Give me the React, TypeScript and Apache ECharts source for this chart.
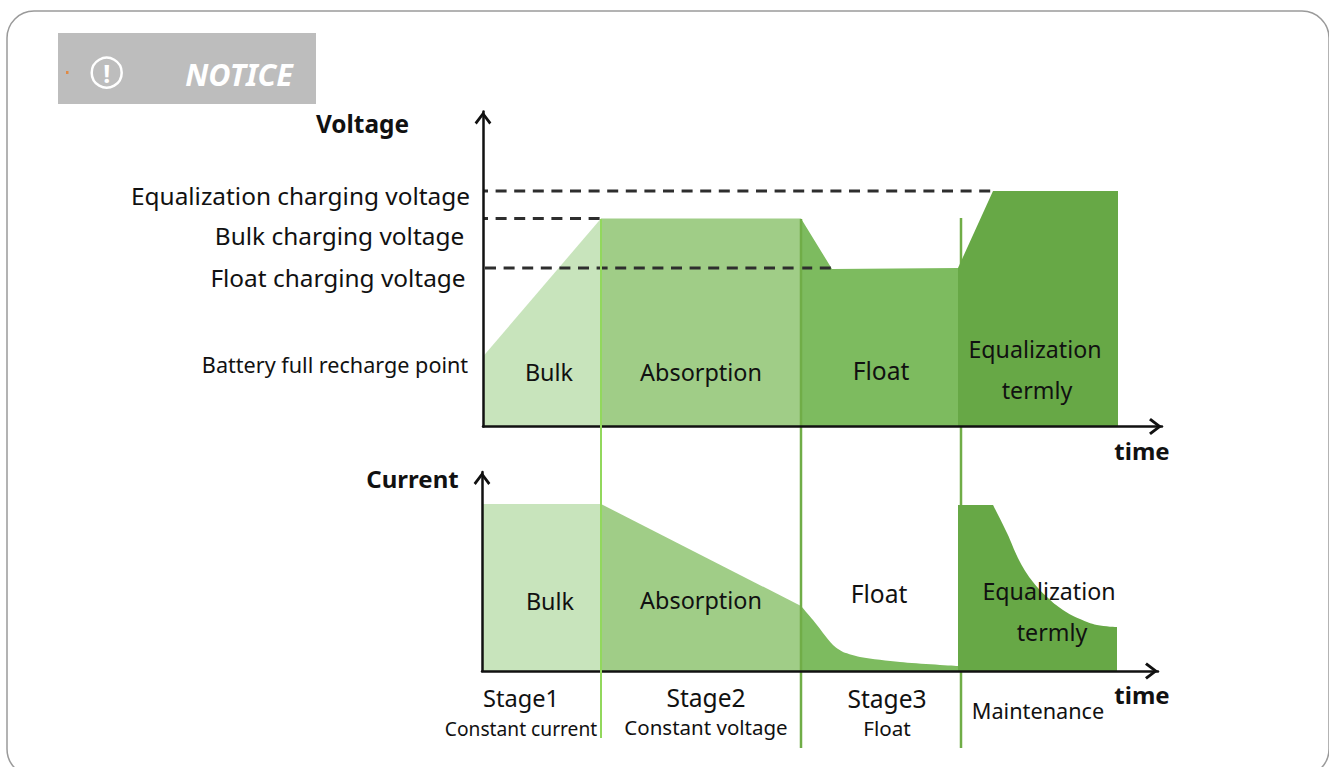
import React, { useEffect, useRef } from "react";
import * as echarts from "echarts";

// Voltage panel: [time, voltage] in arbitrary chart units
const voltageBulk = [[0, 70], [118, 208]];
const voltageAbsorption = [[118, 208], [318, 208]];
const voltageFloat = [[318, 208], [349, 157.5], [475, 158.5]];
const voltageEqualization = [[475, 158.5], [510, 235.5], [635, 235.5]];

// Current panel: [time, current]
const currentBulk = [[0, 167], [119, 167]];
const currentAbsorption = [[119, 167], [319, 65]];
const currentFloatDrop = [[319, 65], [331, 51], [351, 26], [361, 19]];
const currentFloatTail = [[361, 19], [378, 14], [418, 9], [476, 5]];
const currentEqualizationFlat = [[476, 166], [511, 166]];
const currentEqualizationDecay = [[511, 166], [525, 138], [538, 109], [551, 89], [565, 74], [581, 61], [598, 52], [615, 46], [635, 44]];

// Reference levels on the voltage axis: [time, voltage]
const equalizationLevel = [[0, 235.5], [510, 235.5]];
const bulkLevel = [[0, 208], [118, 208]];
const floatLevel = [[2, 158.5], [349, 158.5]];

// Stage boundaries on the full-height overlay axis
const stage1Boundary = [[118, 219], [118, 738]];
const stage2Boundary = [[318, 219], [318, 748]];
const stage3Boundary = [[478, 218], [478, 748]];

const FONT = '"Noto Sans", sans-serif';
const CHEVRON = "path://M0 10.6 L8 0 L16 10.6 L14 12.4 L8 4.4 L2 12.4 Z";

const area = (name: string, data: number[][], color: string, xi: number, smooth = 0) => ({
  name,
  type: "line",
  xAxisIndex: xi,
  yAxisIndex: xi,
  data,
  showSymbol: false,
  silent: true,
  z: 2,
  smooth,
  lineStyle: { width: 0 },
  areaStyle: { color, opacity: 1 },
});

const rule = (name: string, data: number[][], color: string, width: number, xi: number, z = 3) => ({
  name,
  type: "line",
  xAxisIndex: xi,
  yAxisIndex: xi,
  data,
  showSymbol: false,
  silent: true,
  z,
  lineStyle: { color, width },
});

const dashed = (name: string, data: number[][], offset: number) => ({
  ...rule(name, data, "#2e2e2e", 3, 0, 3),
  lineStyle: { color: "#2e2e2e", width: 3, type: [11, 7.6], dashOffset: offset },
});

const label = (text: string, x: number, y: number, size: number, extra: any = {}) => ({
  type: "text",
  x,
  y,
  z: 30,
  silent: true,
  style: {
    text,
    fontFamily: FONT,
    fontSize: size,
    fill: "#111",
    align: "center",
    verticalAlign: "middle",
    ...extra,
  },
});

const visibleAxis = (min: number, max: number) => ({
  type: "value",
  min,
  max,
  z: 5,
  axisLine: {
    show: true,
    onZero: false,
    symbol: ["none", CHEVRON],
    symbolSize: [17, 13],
    symbolOffset: [0, -6.5],
    lineStyle: { color: "#111", width: 2.5 },
  },
  axisTick: { show: false },
  axisLabel: { show: false },
  splitLine: { show: false },
});

export default function App() {
  const ref = useRef<HTMLDivElement>(null);
  useEffect(() => {
    const chart = echarts.init(ref.current!, undefined, { renderer: "svg" });
    chart.setOption({
      animation: false,
      backgroundColor: "#fff",
      grid: [
        { left: 483, top: 111.5, width: 679, height: 315 },
        { left: 482, top: 472, width: 676, height: 199 },
        { left: 483, top: 0, width: 680, height: 767 },
      ],
      xAxis: [
        { gridIndex: 0, ...visibleAxis(0, 679) },
        { gridIndex: 1, ...visibleAxis(0, 676) },
        { gridIndex: 2, type: "value", min: 0, max: 680, show: false },
      ],
      yAxis: [
        { gridIndex: 0, ...visibleAxis(0, 315) },
        { gridIndex: 1, ...visibleAxis(0, 199) },
        { gridIndex: 2, type: "value", min: 0, max: 767, inverse: true, show: false },
      ],
      series: [
        area("Bulk voltage", voltageBulk, "#c8e4bc", 0),
        area("Absorption voltage", voltageAbsorption, "#a0cd87", 0),
        area("Float voltage", voltageFloat, "#7dbb5f", 0),
        area("Equalization voltage", voltageEqualization, "#67a846", 0),
        area("Bulk current", currentBulk, "#c8e4bc", 1),
        area("Absorption current", currentAbsorption, "#a0cd87", 1),
        area("Float current drop", currentFloatDrop, "#7dbb5f", 1, 0.3),
        area("Float current tail", currentFloatTail, "#7dbb5f", 1, 0.3),
        area("Equalization current flat", currentEqualizationFlat, "#67a846", 1),
        area("Equalization current decay", currentEqualizationDecay, "#67a846", 1, 0.4),
        dashed("Equalization level", equalizationLevel, 5.5),
        dashed("Bulk level", bulkLevel, 5.5),
        dashed("Float level", floatLevel, 0),
        rule("Stage 1 boundary", stage1Boundary, "#92d85c", 2, 2, 6),
        rule("Stage 2 boundary", stage2Boundary, "#70ad47", 2.5, 2, 4),
        rule("Stage 3 boundary", stage3Boundary, "#70ad47", 2.5, 2, 1),
      ],
      graphic: {
        elements: [
          {
            type: "rect",
            z: 0,
            silent: true,
            shape: { x: 7, y: 11, width: 1322, height: 765, r: 27 },
            style: { fill: "none", stroke: "#9a9a9a", lineWidth: 1.5 },
          },
          {
            type: "rect",
            z: 1,
            silent: true,
            shape: { x: 58, y: 33, width: 258, height: 71 },
            style: { fill: "#bdbdbd" },
          },
          {
            type: "rect",
            z: 2,
            silent: true,
            shape: { x: 66, y: 71, width: 2.5, height: 3 },
            style: { fill: "#e08a45" },
          },
          {
            type: "circle",
            z: 2,
            silent: true,
            shape: { cx: 106.7, cy: 72.7, r: 15 },
            style: { fill: "none", stroke: "#fff", lineWidth: 2.5 },
          },
          label("!", 106.7, 73, 25, { fill: "#fff", fontWeight: "bold" }),
          label("NOTICE", 239, 74, 30.5, { fill: "#fff", fontWeight: "bold", fontStyle: "italic" }),
          label("Voltage", 362.5, 123, 24.4, { fontWeight: "bold" }),
          label("Equalization charging voltage", 300.5, 195, 24.4),
          label("Bulk charging voltage", 339.5, 235, 24.4),
          label("Float charging voltage", 338, 277, 24.4),
          label("Battery full recharge point", 335, 364.5, 21.6),
          label("Bulk", 549, 372, 23.4),
          label("Absorption", 701, 372, 23.4),
          label("Float", 881, 370, 24.6),
          label("Equalization", 1035, 349, 23.2),
          label("termly", 1037, 390, 23.2),
          label("time", 1142, 450, 24, { fontWeight: "bold" }),
          label("Current", 412.5, 478, 24, { fontWeight: "bold" }),
          label("Bulk", 550, 601, 23.4),
          label("Absorption", 701, 600, 23.4),
          label("Float", 879, 593, 24.6),
          label("Equalization", 1049, 591, 23.2),
          label("termly", 1052, 632, 23.2),
          label("time", 1142, 694, 24, { fontWeight: "bold" }),
          label("Stage1", 521, 698, 23.6),
          label("Constant current", 521, 728, 19.2),
          label("Stage2", 706, 697, 24.6),
          label("Constant voltage", 706, 727, 20.5),
          label("Stage3", 887, 698, 24.6),
          label("Float", 887, 728, 20.6),
          label("Maintenance", 1038, 710, 21.7),
        ],
      },
    });
    return () => chart.dispose();
  }, []);
  return (
    <div
      ref={ref}
      style={{ position: "fixed", left: 0, top: 0, width: 1329, height: 767, background: "#fff" }}
    />
  );
}
